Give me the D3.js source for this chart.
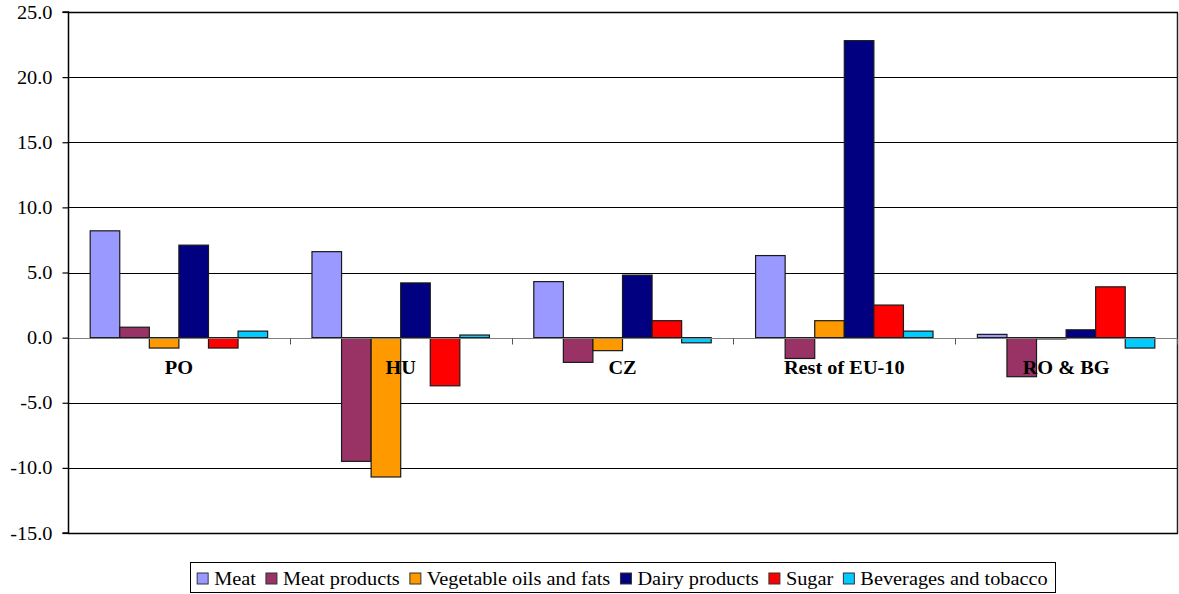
<!DOCTYPE html>
<html>
<head>
<meta charset="utf-8">
<script src="https://cdn.jsdelivr.net/npm/d3@7"></script>
<style>
  html, body { margin: 0; padding: 0; background: #fff; }
  svg { display: block; }
</style>
</head>
<body>
<svg id="chart" width="1179" height="594"></svg>
<script>
// Regions shown along the category axis
const regions = ["PO", "HU", "CZ", "Rest of EU-10", "RO & BG"];

// Product groups (one bar per group in each region)
const products = ["Meat", "Meat products", "Vegetable oils and fats", "Dairy products", "Sugar", "Beverages and tobacco"];
const productColors = ["#9999FF", "#993366", "#FF9900", "#000080", "#FF0000", "#00CCFF"];

// Values per product, listed in region order
const meat           = [8.2,  6.6,  4.3,  6.3, 0.25];
const meatProducts   = [0.8, -9.5, -1.9, -1.6, -3.0];
const vegOilsFats    = [-0.8, -10.7, -1.0, 1.3, -0.1];
const dairyProducts  = [7.1,  4.2,  4.8, 22.8, 0.6];
const sugar          = [-0.8, -3.7, 1.3,  2.5, 3.9];
const beveragesTob   = [0.5,  0.2, -0.4,  0.5, -0.8];

const seriesValues = [meat, meatProducts, vegOilsFats, dairyProducts, sugar, beveragesTob];

// Value axis ticks
const yTicks = [25, 20, 15, 10, 5, 0, -5, -10, -15];

const FONT = '"Liberation Serif", "Times New Roman", Times, serif';
const svg = d3.select("#chart");
const plot = { left: 68, right: 1177, top: 12, bottom: 533 };
const stretch = 1.13; // horizontal glyph stretch of the serif text

const x = d3.scaleBand().domain(regions).range([plot.left, plot.right]).padding(0);
const xs = d3.scaleBand().domain(products).range([0, x.bandwidth()])
  .paddingInner(0).paddingOuter(0.75);
const y = d3.scaleLinear().domain([-15, 25]).range([plot.bottom, plot.top]);

// Horizontal gridlines
svg.append("g")
  .selectAll("line")
  .data(yTicks.filter(t => t !== 0))
  .join("line")
  .attr("x1", plot.left).attr("x2", plot.right)
  .attr("y1", d => Math.round(y(d)) + 0.5).attr("y2", d => Math.round(y(d)) + 0.5)
  .attr("stroke", "#000").attr("stroke-width", 1);

// Right border of the plot area
svg.append("line")
  .attr("x1", plot.right + 0.5).attr("x2", plot.right + 0.5)
  .attr("y1", Math.round(y(25)) + 0.5).attr("y2", Math.round(y(-15)) + 0.5)
  .attr("stroke", "#222").attr("stroke-width", 1.5);

// Bars
const rows = [];
regions.forEach((r, i) => products.forEach((p, j) => rows.push({ region: r, product: p, value: seriesValues[j][i], color: productColors[j] })));

svg.append("g")
  .selectAll("rect")
  .data(rows)
  .join("rect")
  .attr("x", d => x(d.region) + xs(d.product))
  .attr("width", xs.bandwidth())
  .attr("y", d => Math.min(y(d.value), y(0)))
  .attr("height", d => Math.abs(y(d.value) - y(0)))
  .attr("fill", d => d.color)
  .attr("stroke", "#1a1a1a")
  .attr("stroke-width", 1.2);

// Category axis along zero
const zeroY = Math.round(y(0)) + 0.5;
svg.append("line")
  .attr("x1", plot.left).attr("x2", plot.right)
  .attr("y1", zeroY).attr("y2", zeroY)
  .attr("stroke", "#808080").attr("stroke-width", 1.2);

svg.append("g")
  .selectAll("line")
  .data(regions)
  .join("line")
  .attr("x1", d => Math.round(x(d) + x.bandwidth()) + 0.5)
  .attr("x2", d => Math.round(x(d) + x.bandwidth()) + 0.5)
  .attr("y1", zeroY).attr("y2", zeroY + 6)
  .attr("stroke", "#555").attr("stroke-width", 1);

svg.append("g")
  .selectAll("text")
  .data(regions)
  .join("text")
  .attr("transform", d => `translate(${x(d) + x.bandwidth() / 2},${y(0) + 36}) scale(${stretch},1)`)
  .attr("text-anchor", "middle")
  .style("font-family", FONT)
  .style("font-size", "18px")
  .style("font-weight", "bold")
  .attr("fill", "#000")
  .text(d => d);

// Value axis
const yAxis = d3.axisLeft(y).tickValues(yTicks).tickSize(6).tickPadding(10)
  .tickFormat(d => d3.format(".1f")(d).replace("\u2212", "-"));
const yg = svg.append("g").attr("transform", `translate(${plot.left + 0.5},0)`).call(yAxis);
yg.select(".domain").attr("stroke", "#000").attr("stroke-width", 1.5).attr("d", `M-6,${y(25)}H0V${y(-15)}H-6`);
yg.selectAll(".tick line").attr("stroke", "#000").attr("stroke-width", 1.2);
yg.selectAll(".tick text")
  .style("font-family", FONT)
  .style("font-size", "18px")
  .attr("fill", "#000")
  .attr("dy", "0.34em")
  .each(function () {
    const t = d3.select(this);
    const tx = +t.attr("x");
    t.attr("x", tx / stretch).attr("transform", `scale(${stretch},1)`);
  });

// Top and bottom border of the plot area
svg.append("line")
  .attr("x1", plot.left).attr("x2", plot.right + 1)
  .attr("y1", Math.round(y(25)) + 0.5).attr("y2", Math.round(y(25)) + 0.5)
  .attr("stroke", "#000").attr("stroke-width", 1.5);
svg.append("line")
  .attr("x1", plot.left).attr("x2", plot.right + 1)
  .attr("y1", Math.round(y(-15)) + 0.5).attr("y2", Math.round(y(-15)) + 0.5)
  .attr("stroke", "#000").attr("stroke-width", 1.5);

// Legend
const legend = svg.append("g");
const items = legend.selectAll("g").data(products).join("g");
items.append("rect")
  .attr("width", 11).attr("height", 11)
  .attr("y", 573)
  .attr("fill", (d, i) => productColors[i])
  .attr("stroke", "#333").attr("stroke-width", 1);
items.append("text")
  .style("font-family", FONT)
  .style("font-size", "18px")
  .attr("fill", "#000")
  .attr("y", 585)
  .text(d => d);

const itemGap = 10;
let cursor = 0;
const offsets = [];
items.each(function () {
  const g = d3.select(this);
  const w = g.select("text").node().getComputedTextLength() * stretch;
  offsets.push(cursor);
  cursor += 17 + w + itemGap;
});
const totalW = cursor - itemGap;
const legendLeft = (plot.left + plot.right) / 2 - totalW / 2;
items.each(function (d, i) {
  const g = d3.select(this);
  const x0 = legendLeft + offsets[i];
  g.select("rect").attr("x", x0);
  g.select("text").attr("transform", `translate(${x0 + 17},0) scale(${stretch},1)`).attr("x", 0);
});
legend.insert("rect", ":first-child")
  .attr("x", Math.round(legendLeft - 7) + 0.5).attr("y", 562.5)
  .attr("width", Math.round(totalW + 14)).attr("height", 30)
  .attr("fill", "#fff").attr("stroke", "#000").attr("stroke-width", 1);
</script>
</body>
</html>
